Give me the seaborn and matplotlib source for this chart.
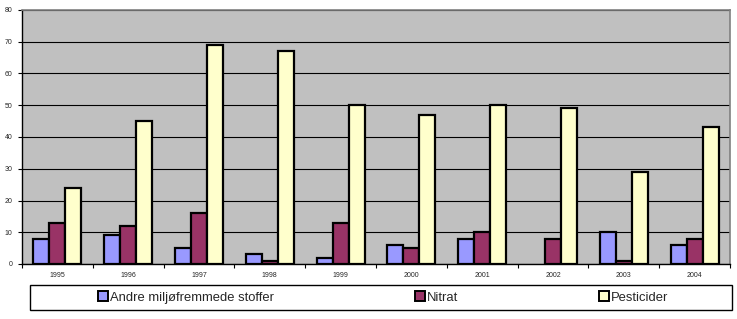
import matplotlib
matplotlib.use("Agg")
import matplotlib.pyplot as plt
import seaborn as sns
import pandas as pd
import numpy as np
from matplotlib.patches import Rectangle

years = ["1995", "1996", "1997", "1998", "1999", "2000", "2001", "2002", "2003", "2004"]
series_names = ["Andre miljøfremmede stoffer", "Nitrat", "Pesticider"]
andre = [8, 9, 5, 3, 2, 6, 8, 0, 10, 6]
nitrat = [13, 12, 16, 1, 13, 5, 10, 8, 1, 8]
pesticider = [24, 45, 69, 67, 50, 47, 50, 49, 29, 43]
colors = ["#9999FF", "#993366", "#FFFFCC"]
yticks = [0, 10, 20, 30, 40, 50, 60, 70, 80]

rows = []
for name, vals in zip(series_names, [andre, nitrat, pesticider]):
    for y, v in zip(years, vals):
        rows.append({"year": y, "series": name, "value": v})
df = pd.DataFrame(rows)

sns.set_theme(style="white")
plt.rcParams['font.family'] = ['Liberation Sans', 'DejaVu Sans']

W, H = 737, 319
fig = plt.figure(figsize=(W / 100, H / 100), dpi=100)
ax = fig.add_axes([22 / W, (H - 264) / H, (730 - 22) / W, (264 - 10) / H])
ax.set_facecolor("#C0C0C0")

sns.barplot(data=df, x="year", y="value", hue="series", palette=colors,
            saturation=1, width=0.68, edgecolor="black", linewidth=1.6,
            ax=ax, legend=False, zorder=3)
for p in ax.patches:
    if p.get_height() == 0:
        p.set_visible(False)

ax.set_ylim(0, 80)
ax.set_yticks(yticks)
ax.set_yticklabels([str(t) for t in yticks], fontsize=5)
ax.set_xlim(-0.5, len(years) - 0.5)
ax.set_xticks(range(len(years)))
ax.set_xticklabels(years, fontsize=5)
ax.set_xticks(np.arange(-0.5, len(years), 1.0), minor=True)
ax.tick_params(axis="x", which="major", length=0, pad=6)
ax.tick_params(axis="x", which="minor", length=3, width=0.8, color="black", direction="out", bottom=True)
ax.tick_params(axis="y", length=3, width=0.8, color="black", direction="out", left=True, pad=4)
ax.set_xlabel("")
ax.set_ylabel("")
ax.yaxis.grid(True, color="black", linewidth=0.8, zorder=1)
ax.set_axisbelow(True)
for s in ["left", "bottom"]:
    ax.spines[s].set_color("black")
    ax.spines[s].set_linewidth(1.0)
for s in ["top", "right"]:
    ax.spines[s].set_color("#808080")
    ax.spines[s].set_linewidth(1.2)

# Legend box
fig.patches.append(Rectangle((30 / W, (H - 310) / H), (732 - 30) / W, 25 / H,
                             transform=fig.transFigure, facecolor="white",
                             edgecolor="black", linewidth=1.0))
handles = [Rectangle((0, 0), 1, 1, facecolor=c, edgecolor="black", linewidth=1.4) for c in colors]
leg = fig.legend(handles, series_names, ncol=3, frameon=False,
                 loc="center left", bbox_to_anchor=(98 / W, (H - 297.5) / H),
                 fontsize=9.4, handlelength=0.75, handleheight=0.75,
                 handletextpad=0.2, columnspacing=10.75, borderpad=0, borderaxespad=0)

fig.savefig("out.png", dpi=100)
